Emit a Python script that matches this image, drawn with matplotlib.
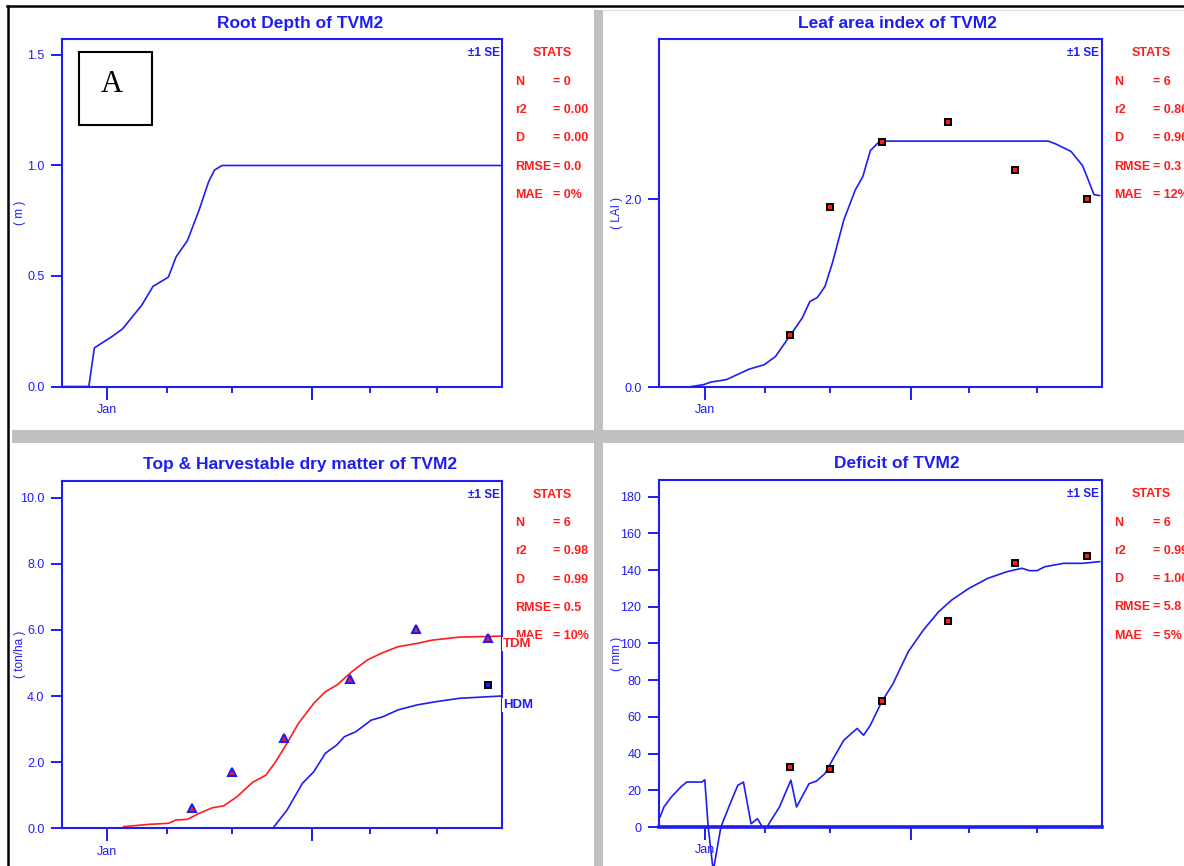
import matplotlib
matplotlib.use('Agg')
import matplotlib.pyplot as plt
from matplotlib import font_manager
from matplotlib.patches import Rectangle
from matplotlib.lines import Line2D

# ---------------- data ----------------
# x axis is in simulation days (Jan tick at day 22.5)
x_major_ticks = [22.5, 125]
x_major_labels = ['Jan', '']
x_minor_ticks = [52.5, 85, 154, 187.5]

root_days = [0, 13.2, 16, 24.3, 30, 39.6, 45.3, 53, 56.8, 62.5, 68.3, 73.1, 76, 79.8, 220]
root_depth = [0, 0, 0.175, 0.223, 0.26, 0.367, 0.453, 0.495, 0.586, 0.66, 0.797, 0.926, 0.979, 1.0, 1.0]

lai_days = [14.5, 22, 25.8, 33.3, 44.6, 52.1, 57.8, 63.5, 71, 74.8, 78.5, 82.3, 86, 91.7, 97.4,
            101.1, 104.9, 109.6, 193.3, 197, 204.6, 210.3, 213.1, 216, 218.8]
lai_sim = [0, 0.025, 0.053, 0.078, 0.19, 0.237, 0.326, 0.503, 0.734, 0.91, 0.953, 1.07, 1.32, 1.78, 2.10,
           2.24, 2.52, 2.62, 2.62, 2.59, 2.51, 2.36, 2.21, 2.05, 2.04]

obs_days = [65, 84.7, 110.7, 143.6, 176.6, 212.6]
lai_obs = [0.556, 1.915, 2.61, 2.82, 2.31, 2.006]

tdm_days = [30.6, 43.4, 53, 56.8, 62.5, 68.3, 75, 80.7, 87.4, 95.1, 101.8, 106.6, 112.3, 118, 125.7,
            131.5, 137.2, 144.8, 152.5, 160.1, 167.8, 177.3, 185, 198.4, 219.5]
tdm_sim = [0.05, 0.12, 0.15, 0.25, 0.27, 0.45, 0.62, 0.68, 0.96, 1.39, 1.61, 2.01, 2.57, 3.17, 3.78,
           4.13, 4.33, 4.74, 5.09, 5.31, 5.49, 5.59, 5.69, 5.78, 5.81]
hdm_days = [105.2, 112.3, 120, 125.7, 131.5, 137.2, 141, 146.7, 154.4, 160.1, 167.8, 177.3, 187, 198.4, 219.5]
hdm_sim = [0, 0.55, 1.36, 1.71, 2.27, 2.52, 2.77, 2.92, 3.27, 3.37, 3.58, 3.73, 3.83, 3.93, 4.0]
tdm_obs = [0.60, 1.71, 2.72, 4.5, 6.02, 5.74]
hdm_obs_days = [212.8]
hdm_obs = [4.33]

deficit_days = [0.4, 2.3, 6, 10.7, 13.6, 21.1, 22.6, 24.3, 26.8, 30.6, 35.2, 39, 41.8, 45.6, 48.8,
                51.2, 53.5, 59.7, 65.4, 68.2, 74.4, 78.1, 82.3, 86, 91.7, 98.3, 101.5, 104.9, 110.5,
                116.2, 123.7, 131.2, 138.8, 145.3, 153.8, 163.2, 172.7, 180.2, 183.9, 187.7, 191.5,
                200.9, 210.3, 218.8]
deficit_sim = [5.5, 10.9, 16.4, 21.8, 24.5, 24.5, 25.7, 0, -24, 0, 12.7, 22.7, 24.5, 1.8, 4.5,
               0, 0, 10.9, 25.5, 10.9, 23.6, 25, 29.1, 36.4, 47.3, 53.7, 50, 55.5, 68.2,
               78.2, 95.5, 107.3, 117.3, 123.7, 130, 135.5, 139.1, 141, 139.7, 139.7, 141.8,
               143.7, 143.7, 144.6]
deficit_obs = [32.7, 31.8, 68.6, 112.2, 144.0, 147.8]

stat_names = ['N', 'r2', 'D', 'RMSE', 'MAE']
stats_root = ['0', '0.00', '0.00', '0.0', '0%']
stats_lai = ['6', '0.86', '0.96', '0.3', '12%']
stats_dm = ['6', '0.98', '0.99', '0.5', '10%']
stats_def = ['6', '0.99', '1.00', '5.8', '5%']

# ---------------- style ----------------
W, H = 1184, 866
BLUE = '#1e1ef2'
RED = '#ff1c1c'
GRAY = '#c0c0c0'


def have(fam):
    try:
        font_manager.findfont(font_manager.FontProperties(family=fam), fallback_to_default=False)
        return True
    except Exception:
        return False


NARROW = 'Liberation Sans Narrow' if have('Liberation Sans Narrow') else 'Liberation Sans'
plt.rcParams['font.family'] = [NARROW, 'DejaVu Sans']

fig = plt.figure(figsize=(W / 100, H / 100), dpi=100)
fig.patch.set_facecolor('white')


def fx(x):
    return x / W


def fy(y):
    return 1 - y / H


# frame lines and separators
fig.add_artist(Line2D([fx(7), fx(W)], [fy(6), fy(6)], color='black', lw=1.8))
fig.add_artist(Line2D([fx(8), fx(8)], [fy(6), fy(H)], color='black', lw=1.8))
fig.add_artist(Rectangle((fx(594), fy(H)), fx(603) - fx(594), fy(10) - fy(H), color=GRAY, lw=0))
fig.add_artist(Rectangle((fx(12), fy(443)), fx(W) - fx(12), fy(429.5) - fy(443), color=GRAY, lw=0))
fig.add_artist(Line2D([fx(603), fx(W)], [fy(10), fy(10)], color='#e2e2e2', lw=1))

P1 = (62.4, 39.3, 502.4, 386.5)
P2 = (659.3, 39.3, 1102, 387)
P3 = (62.4, 480.7, 502.4, 828.3)
P4 = (659.3, 480, 1102, 827)

STAT_FS = 9


def make_ax(rect, ymax, yticks, fmt, title, ylabel, stats):
    l, t, r, b = rect
    ax = fig.add_axes([l / W, 1 - b / H, (r - l) / W, (b - t) / H])
    ax.set_xlim(0, 220)
    ax.set_ylim(0, ymax)
    for s in ax.spines.values():
        s.set_color(BLUE)
        s.set_linewidth(1.5)
    ax.set_xticks(x_major_ticks)
    ax.set_xticklabels(x_major_labels)
    ax.set_xticks(x_minor_ticks, minor=True)
    ax.set_yticks(yticks)
    ax.set_yticklabels([fmt.format(v) for v in yticks])
    ax.tick_params(axis='y', direction='out', length=7.9, width=1.4, color=BLUE,
                   labelcolor=BLUE, labelsize=9, pad=5)
    ax.tick_params(axis='x', which='major', direction='out', length=9.4, width=1.4, color=BLUE,
                   labelcolor=BLUE, labelsize=9, pad=3)
    ax.tick_params(axis='x', which='minor', direction='out', length=4.3, width=1.4, color=BLUE)
    # title centred on panel
    cx = 300 if l < 500 else 897
    fig.text(fx(cx), fy(t - 16), title, ha='center', va='center', color=BLUE,
             fontsize=12.5, fontweight='bold', family='Liberation Sans')
    fig.text(fx(l - 42), fy((t + b) / 2), ylabel, rotation=90, ha='center', va='center',
             color=BLUE, fontsize=8.5)
    fig.text(fx(r - 3), fy(t + 14), '\u00b11 SE', ha='right', va='center', color=BLUE,
             fontsize=8.5, fontweight='bold')
    fig.text(fx(r + 49.5), fy(t + 14), 'STATS', ha='center', va='center', color=RED,
             fontsize=STAT_FS, fontweight='bold')
    for i, (lab, val) in enumerate(zip(stat_names, stats)):
        y = t + 42.5 + i * 28.3
        fig.text(fx(r + 12.5), fy(y), lab, ha='left', va='center', color=RED,
                 fontsize=STAT_FS, fontweight='bold')
        fig.text(fx(r + 51), fy(y), '= ' + val, ha='left', va='center', color=RED,
                 fontsize=STAT_FS, fontweight='bold')
    return ax


# Panel A: root depth
ax1 = make_ax(P1, 1.571, [0.0, 0.5, 1.0, 1.5], '{:.1f}', 'Root Depth of TVM2', '( m )', stats_root)
ax1.plot(root_days, root_depth, color=BLUE, lw=1.2)
fig.add_artist(Rectangle((fx(78.5), fy(125)), fx(151.5) - fx(78.5), fy(51.7) - fy(125),
                         facecolor='white', edgecolor='black', lw=1.5))
fig.text(fx(112), fy(85), 'A', ha='center', va='center', fontsize=22, family='Liberation Serif',
         color='black')

# Panel: LAI
ax2 = make_ax(P2, 3.705, [0.0, 2.0], '{:.1f}', 'Leaf area index of TVM2', '( LAI )', stats_lai)
ax2.plot(lai_days, lai_sim, color=BLUE, lw=1.2)
ax2.plot(obs_days, lai_obs, ls='none', marker='s', ms=5, mfc=RED, mec='black', mew=1.4, zorder=5)

# Panel: dry matter
ax3 = make_ax(P3, 10.51, [0.0, 2.0, 4.0, 6.0, 8.0, 10.0], '{:.1f}',
              'Top & Harvestable dry matter of TVM2', '( ton/ha )', stats_dm)
ax3.plot(tdm_days, tdm_sim, color=RED, lw=1.2)
ax3.plot(hdm_days, hdm_sim, color=BLUE, lw=1.2)
ax3.plot(obs_days, tdm_obs, ls='none', marker='^', ms=6, mfc=RED, mec=BLUE, mew=1.5, zorder=5)
ax3.plot(hdm_obs_days, hdm_obs, ls='none', marker='s', ms=5, mfc=BLUE, mec='black', mew=1.4, zorder=5)
fig.text(fx(503), fy(644), 'TDM', ha='left', va='center', color=RED, fontsize=9.5, fontweight='bold',
         bbox=dict(facecolor='white', edgecolor='none', pad=1.0), zorder=10)
fig.text(fx(503), fy(705), 'HDM', ha='left', va='center', color=BLUE, fontsize=9.5, fontweight='bold',
         bbox=dict(facecolor='white', edgecolor='none', pad=1.0), zorder=10)

# Panel: deficit
ax4 = make_ax(P4, 189.1, list(range(0, 181, 20)), '{:d}', 'Deficit of TVM2', '( mm )', stats_def)
ax4.spines['bottom'].set_linewidth(2.6)
ax4.plot(deficit_days, deficit_sim, color=BLUE, lw=1.2, clip_on=False)
ax4.plot(obs_days, deficit_obs, ls='none', marker='s', ms=5, mfc=RED, mec='black', mew=1.4, zorder=5)

fig.savefig('out.png', dpi=100, facecolor='white')
